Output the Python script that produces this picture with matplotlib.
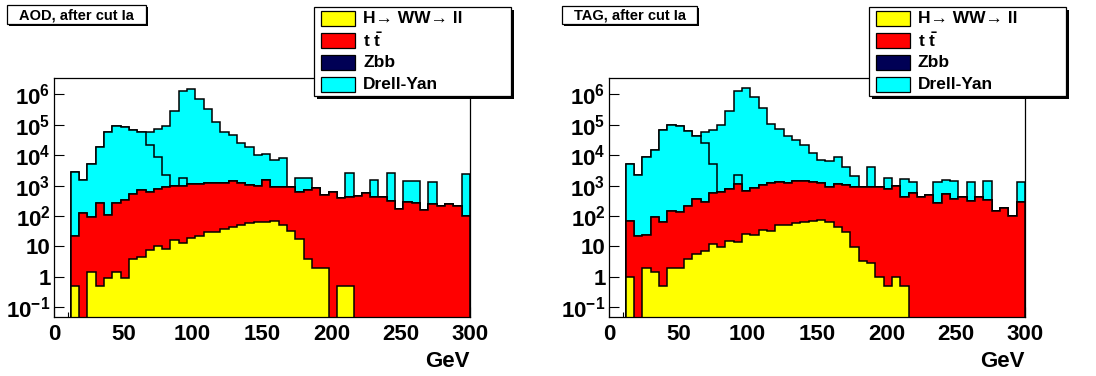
import numpy as np
import matplotlib
matplotlib.use('Agg')
import matplotlib.pyplot as plt
from matplotlib.patches import Rectangle
from matplotlib.ticker import FixedLocator, FixedFormatter, LogLocator, NullFormatter, MultipleLocator

plt.rcParams['font.family'] = ['Liberation Sans', 'DejaVu Sans']
plt.rcParams['font.weight'] = 'bold'
plt.rcParams['mathtext.fontset'] = 'custom'
plt.rcParams['mathtext.rm'] = 'Liberation Sans:bold'
plt.rcParams['mathtext.bf'] = 'Liberation Sans:bold'
plt.rcParams['mathtext.it'] = 'Liberation Sans:bold'

# 50 bins of 6 GeV, 0..300 GeV
edges = np.arange(0, 301, 6)

# --- AOD, after cut Ia (events per bin, per sample) ---
higgs_aod = [0, 0, 0.5, 0, 1.5, 0.5, 0.95, 1.4, 0.95, 3.8, 4.5, 7.5,
             10, 8.5, 16, 13, 19, 22, 30, 30, 37, 45, 50, 57, 62, 65, 70,
             50, 33, 17, 4, 2, 2, 0, 0.5, 0.5,
             0, 0, 0, 0, 0, 0, 0, 0, 0, 0, 0, 0, 0, 0]
ttbar_aod = [0, 0, 21.5, 130, 88.5, 259, 104, 259, 329, 516, 695, 592,
             760, 871, 944, 987, 1081, 1148, 1220, 1200, 1223, 1405,
             1150, 993, 898, 1435, 860, 880, 847, 613, 716, 848,
             508, 600, 389, 409, 470, 590, 435, 410, 315, 175,
             280, 260, 155, 240, 218, 255, 220, 102]
zbb_aod = [0] * 50
dylow_aod = [0, 0, 2878, 1420, 5110, 18740, 59900, 92700, 82700, 64500,
             56300, 21400, 8230, 1420, 0, 750,
             0, 0, 0, 0, 0, 0, 0, 0, 0, 0, 0, 0, 0, 0, 0, 0, 0, 0,
             0, 0, 0, 0, 0, 0, 0, 0, 0, 0, 0, 0, 0, 0, 0, 0]
dyz_aod = [0, 0, 0, 0, 0, 0, 0, 0, 0, 0, 0,
           38000, 65000, 90700, 274000, 1.3e6, 1.55e6, 720000, 335000,
           125000, 58000, 46000, 24000, 18000, 9000, 9500, 6000, 7000,
           0, 1120, 1080, 0, 0, 0, 0, 2290, 0, 0, 1115, 0, 2235, 0,
           1140, 1160, 0, 1110, 0, 0, 0, 2298]

# --- TAG, after cut Ia ---
higgs_tag = [0, 0, 1.0, 0, 2.0, 1.46, 0.5, 2.0, 2.0, 4.0, 5.6, 7.2,
             12.5, 9.7, 15, 14, 25, 23.5, 36, 32, 50, 49, 60, 65, 68, 74,
             65, 44, 29, 9.3, 3.4, 2.9, 1.0, 0.5, 1.0, 0.5,
             0, 0, 0, 0, 0, 0, 0, 0, 0, 0, 0, 0, 0, 0]
ttbar_tag = [0, 0, 67, 22, 21.5, 88.5, 64.5, 148, 130, 216, 349, 293,
             548, 620, 745, 1086, 665, 837, 1014, 1228, 1300, 1200,
             1400, 1355, 1282, 1176, 865, 1106, 1021, 921, 897, 927,
             929, 780, 999, 435, 590, 410, 490, 260, 520, 370,
             435, 320, 410, 340, 150, 180, 102, 280]
zbb_tag = [0] * 50
dylow_tag = [0, 0, 5130, 2130, 8980, 14900, 67900, 99800, 88900, 62800,
             43600, 24700, 4440, 0, 0, 1100,
             0, 0, 0, 0, 0, 0, 0, 0, 0, 0, 0, 0, 0, 0, 0, 0, 0, 0,
             0, 0, 0, 0, 0, 0, 0, 0, 0, 0, 0, 0, 0, 0, 0, 0]
dyz_tag = [0, 0, 0, 0, 0, 0, 0, 0, 0, 0, 0,
           32000, 63000, 94400, 289000, 1.26e6, 1.6e6, 810000, 355000,
           107000, 74000, 41000, 30000, 21000, 10300, 5800, 5700, 7850,
           3150, 1070, 0, 3270, 0, 970, 0, 1215, 760, 0, 0, 1090, 1030,
           1050, 0, 1030, 0, 1110, 0, 0, 0, 1070]

titles = ['AOD, after cut Ia', 'TAG, after cut Ia']
legend_labels = ['H\u2192 WW\u2192 ll', r'$\mathbf{t}\ \bar{\mathbf{t}}$', 'Zbb', 'Drell-Yan']
legend_colors = ['#ffff00', '#ff0000', '#000055', '#00ffff']
layer_colors = ['#ffff00', '#ff0000', '#000055', '#00ffff', '#00ffff']
y_ticks = [0.1, 1, 10, 1e2, 1e3, 1e4, 1e5, 1e6]
y_tick_labels = ['$10^{-1}$', '1', '10', '$10^{2}$', '$10^{3}$', '$10^{4}$', '$10^{5}$', '$10^{6}$']

W, H = 1096, 376
fig = plt.figure(figsize=(W / 100, H / 100), dpi=100)


def fx(x):
    return x / W


def fy(y):
    return 1 - y / H


def box(x0, y0, x1, y1, shadow):
    fig.patches.append(Rectangle((fx(x0 + shadow), fy(y1 + shadow)), fx(x1 - x0), (y1 - y0) / H,
                                 transform=fig.transFigure, facecolor='black', edgecolor='black', lw=0))
    fig.patches.append(Rectangle((fx(x0), fy(y1)), fx(x1 - x0), (y1 - y0) / H,
                                 transform=fig.transFigure, facecolor='white', edgecolor='black', lw=0.9))


panels = [
    (54, [higgs_aod, ttbar_aod, zbb_aod, dylow_aod, dyz_aod], (7, 5, 146, 24), 314),
    (609, [higgs_tag, ttbar_tag, zbb_tag, dylow_tag, dyz_tag], (562, 6, 697, 24), 869),
]

floor = 1e-3
for k, (left, layers, tbox, lx) in enumerate(panels):
    ax = fig.add_axes([fx(left), (H - 317) / H, 416 / W, 239 / H])
    levels = np.cumsum(np.array(layers, dtype=float), axis=0)
    # ROOT THStack: draw the total first, then each lower sum on top of it
    for lev, col in reversed(list(zip(levels, layer_colors))):
        ax.stairs(np.maximum(lev, floor), edges, baseline=floor, fill=True,
                  facecolor=col, edgecolor='black', lw=1.1)
    ax.set_yscale('log')
    ax.set_xlim(0, 300)
    ax.set_ylim(0.048, 3.45e6)
    ax.set_axisbelow(True)
    ax.xaxis.set_major_locator(MultipleLocator(50))
    ax.xaxis.set_minor_locator(MultipleLocator(10))
    ax.yaxis.set_major_locator(FixedLocator(y_ticks))
    ax.yaxis.set_major_formatter(FixedFormatter(y_tick_labels))
    ax.yaxis.set_minor_locator(LogLocator(base=10, subs=np.arange(2, 10)))
    ax.yaxis.set_minor_formatter(NullFormatter())
    ax.tick_params(axis='both', which='both', direction='in', labelsize=16, width=0.8)
    ax.tick_params(axis='both', which='major', length=7)
    ax.tick_params(axis='both', which='minor', length=3.5)
    ax.tick_params(axis='x', pad=5)
    ax.tick_params(axis='y', pad=2.5)
    for lab in ax.get_xticklabels() + ax.get_yticklabels():
        lab.set_fontweight('bold')
    for s in ax.spines.values():
        s.set_linewidth(0.9)
    ax.text(1.0, -0.209, 'GeV', transform=ax.transAxes, ha='right', va='baseline',
            fontsize=16, fontweight='bold')

    # title box
    x0, y0, x1, y1 = tbox
    box(x0, y0, x1, y1, 2)
    fig.text(fx((x0 + x1) / 2), fy((y0 + y1) / 2 + 0.5), titles[k], ha='center', va='center',
             fontsize=10.5, fontweight='bold')

    # legend
    box(lx, 7, lx + 197, 96, 3)
    for i, (lab, col) in enumerate(zip(legend_labels, legend_colors)):
        cy = 18.7 + 21.9 * i
        fig.patches.append(Rectangle((fx(lx + 7), fy(cy + 7.2)), 34 / W, 14.4 / H,
                                     transform=fig.transFigure, facecolor=col,
                                     edgecolor='black', lw=0.9))
        fig.text(fx(lx + 49), fy(cy), lab, ha='left', va='center',
                 fontsize=12.5, fontweight='bold')

fig.savefig('out.png', dpi=100)
